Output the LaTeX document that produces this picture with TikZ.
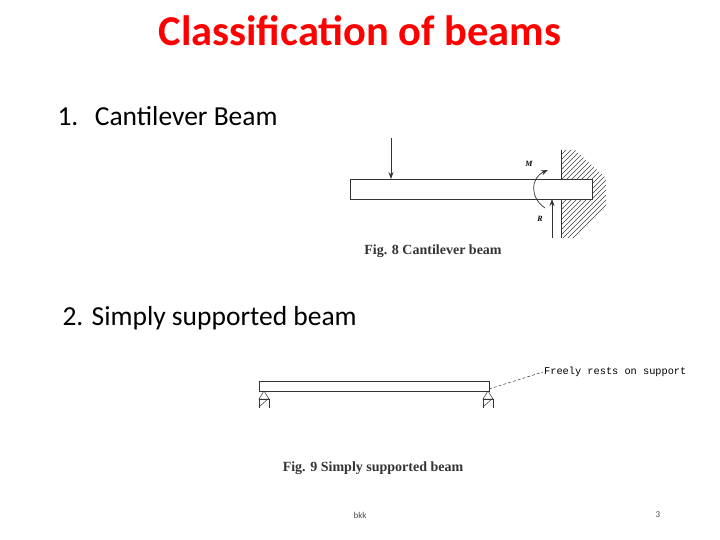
\documentclass[tikz,border=0pt]{standalone}
\usepackage{fontspec}
\setmainfont{Carlito}
\newfontfamily\tnr{Liberation Serif}
\newfontfamily\mono{Liberation Mono}
\usetikzlibrary{arrows.meta}
\begin{document}
\begin{tikzpicture}[x=1pt,y=-1pt,
  ln/.style={draw=black!80,line width=0.7pt},
  arr/.style={ln,-{Stealth[length=7pt,width=5pt]}},
  figcap/.style={font=\tnr\bfseries\fontsize{14}{16}\selectfont,text=black!80}]
\useasboundingbox (0,0) rectangle (720,540);
\node[text=red,font=\bfseries\fontsize{42.5}{46}\selectfont] (title) at (360,31) {Classification of beams};
\node[anchor=west,font=\fontsize{27.5}{30}\selectfont] (h1) at (54,116) {1.\hspace{0.6em}Cantilever Beam};
\node[anchor=west,font=\fontsize{27.5}{30}\selectfont] (h2) at (59,318) {2. Simply supported beam};
% cantilever
\begin{scope}
\clip (561,150) -- (575,150) -- (606,178) -- (606,212) -- (575,238) -- (561,238) -- cycle;
\foreach \i in {0,5,...,140}{
  \draw[black!75,line width=0.5pt] (561,110+\i) -- (611,60+\i);
}
\end{scope}
\draw[ln] (561,150) -- (561,238);
\node[ln,fill=white,minimum width=242pt,minimum height=20pt,inner sep=0,anchor=north west] (beam1) at (350,179) {};
\coordinate (p1) at (391,138);
\draw[arr] (p1) -- (391,179);
\coordinate (r1) at (552,238);
\draw[arr] (r1) -- (552,199);
\draw[arr] (545,208) .. controls (530,198) and (530,178) .. (548,170);
\node[font=\tnr\itshape\bfseries\fontsize{8}{9}\selectfont] (M) at (529,164) {M};
\node[font=\tnr\itshape\bfseries\fontsize{8}{9}\selectfont] (R) at (540,219) {R};
\node[figcap] (c1) at (433,251) {Fig. 8 Cantilever beam};
% simply supported
\node[ln,fill=white,minimum width=230pt,minimum height=10pt,inner sep=0,anchor=north west] (beam2) at (259,381) {};
\foreach \x in {264,488}{
  \draw[ln,line width=0.5pt] (\x,391) -- (\x-5,399) -- (\x+5,399) -- cycle;
  \draw[ln,line width=0.5pt] (\x-5,408) -- (\x-5,399) -- (\x+5,399) -- (\x+5,408);
  \draw[ln,line width=0.5pt] (\x-5,407) -- (\x+4,399);
}
\node[anchor=west,font=\mono\fontsize{10.3}{11}\selectfont,inner sep=1pt] (fr) at (543,372) {Freely rests on support};
\draw[ln,line width=0.5pt,densely dashed] (489,389) -- (fr.west);
\node[figcap] (c2) at (373,468) {Fig. 9 Simply supported beam};
\node[font=\fontsize{9}{10}\selectfont,text=black!70] (bkk) at (360,515) {bkk};
\node[font=\fontsize{9}{10}\selectfont,text=black!70] (pg) at (658,515) {3};
\end{tikzpicture}
\end{document}
